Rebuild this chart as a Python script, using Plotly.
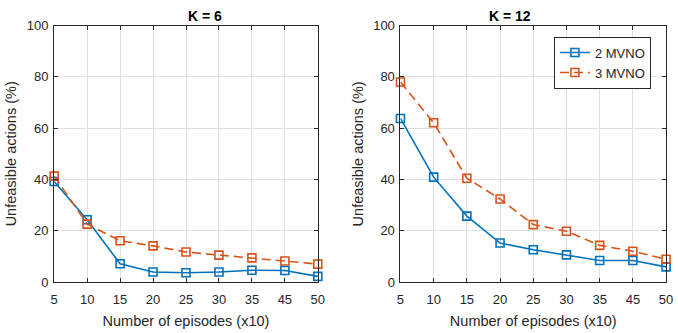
import plotly.graph_objects as go

episodes = ["5", "10", "15", "20", "25", "30", "35", "45", "50"]
k6_2mvno = [39.2, 24.3, 7.1, 3.9, 3.6, 3.9, 4.6, 4.5, 2.2]
k6_3mvno = [41.3, 22.6, 16.1, 14.1, 11.7, 10.5, 9.4, 8.2, 7.0]
k12_2mvno = [63.8, 40.9, 25.7, 15.2, 12.6, 10.6, 8.4, 8.4, 5.9]
k12_3mvno = [78.0, 62.1, 40.5, 32.4, 22.4, 19.8, 14.3, 12.0, 8.9]
yticks = [0, 20, 40, 60, 80, 100]

BLUE = "#0072BD"
ORANGE = "#D95319"
FONT = "Liberation Sans, Arial, sans-serif"
TXT = "#262626"
idx = list(range(1, len(episodes) + 1))

fig = go.Figure()

def add(series, name, color, dash, xa, ya, show):
    fig.add_trace(go.Scatter(
        x=idx, y=series, name=name, mode="lines+markers",
        line=dict(color=color, width=1.6, dash=dash),
        marker=dict(symbol="square-open", size=8, color=color, line=dict(width=1.6, color=color)),
        xaxis=xa, yaxis=ya, showlegend=show, cliponaxis=False))

add(k6_2mvno, "2 MVNO", BLUE, "solid", "x", "y", False)
add(k6_3mvno, "3 MVNO", ORANGE, "9px,5px", "x", "y", False)
add(k12_2mvno, "2 MVNO", BLUE, "solid", "x2", "y2", True)
add(k12_3mvno, "3 MVNO", ORANGE, "9px,5px", "x2", "y2", True)

ydom = [1 - 288 / 333, 1 - 19.5 / 333]
axcommon = dict(showline=True, linecolor=TXT, linewidth=1, mirror="ticks",
                ticks="inside", ticklen=4, tickcolor=TXT,
                showgrid=True, gridcolor="#e0e0e0", gridwidth=1, zeroline=False,
                tickfont=dict(family=FONT, size=13, color=TXT))

xcommon = dict(axcommon, tickvals=idx, ticktext=episodes, range=[1, 9], ticklabelstandoff=5,
               title=dict(text="Number of episodes (x10)", font=dict(family=FONT, size=14.5, color=TXT), standoff=10))
ycommon = dict(axcommon, tickvals=yticks, range=[0, 100], ticklabelstandoff=2,
               title=dict(text="Unfeasible actions (%)", font=dict(family=FONT, size=14.5, color=TXT), standoff=6))

fig.update_layout(
    width=678, height=333,
    margin=dict(l=0, r=0, t=0, b=0),
    paper_bgcolor="white", plot_bgcolor="white",
    xaxis=dict(xcommon, domain=[51 / 678, 319 / 678], anchor="y"),
    yaxis=dict(ycommon, domain=ydom, anchor="x"),
    xaxis2=dict(xcommon, domain=[403 / 678, 673 / 678], anchor="y2"),
    yaxis2=dict(ycommon, domain=ydom, anchor="x2"),
    legend=dict(x=559 / 678, y=1 - 31 / 333, xanchor="left", yanchor="top",
                bgcolor="white", bordercolor=TXT, borderwidth=1,
                font=dict(family=FONT, size=13, color=TXT),
                tracegroupgap=0, itemwidth=30),
    annotations=[
        dict(text="<b>K = 6</b>", x=(51 + 319) / 2 / 678, y=1 - 9 / 333, xref="paper", yref="paper",
             showarrow=False, font=dict(family=FONT, size=14, color="black"), yanchor="middle"),
        dict(text="<b>K = 12</b>", x=(403 + 673) / 2 / 678, y=1 - 9 / 333, xref="paper", yref="paper",
             showarrow=False, font=dict(family=FONT, size=14, color="black"), yanchor="middle"),
    ],
)

fig.write_html("out.html")
